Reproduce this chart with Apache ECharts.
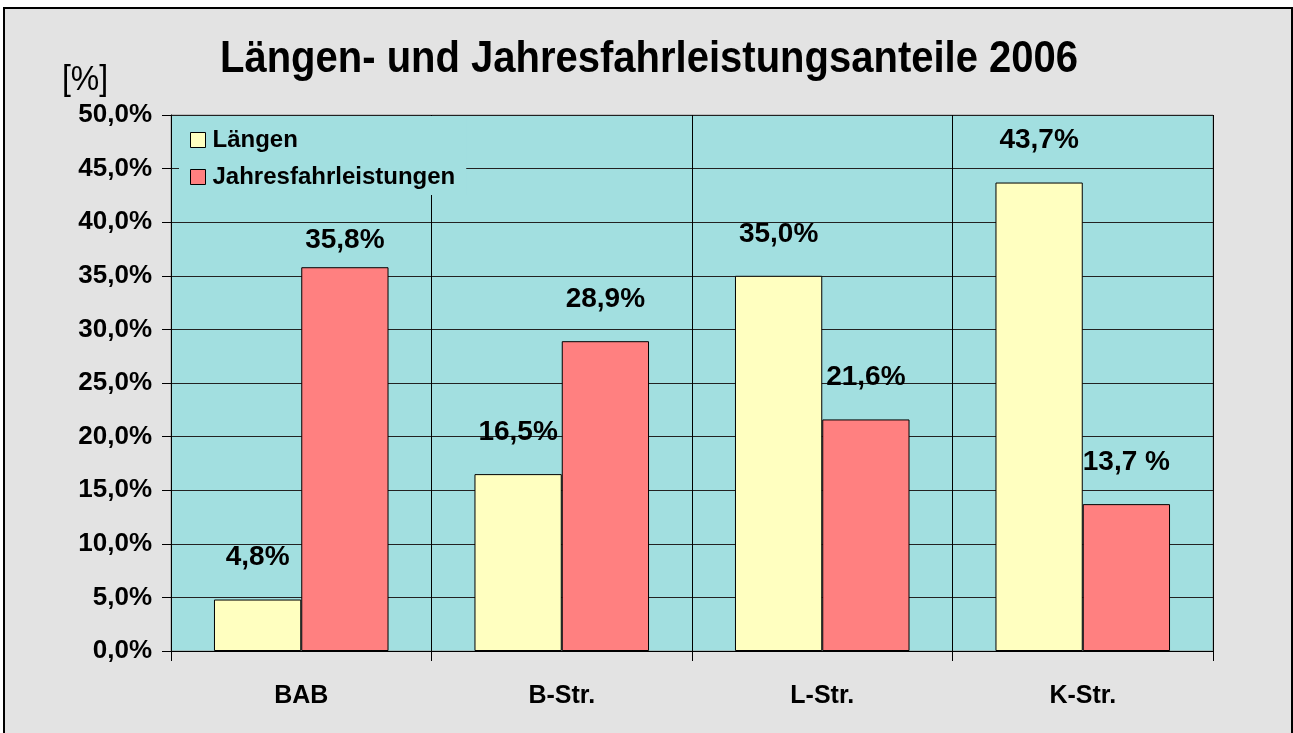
<!DOCTYPE html>
<html>
<head>
<meta charset="utf-8">
<script src="https://cdn.jsdelivr.net/npm/echarts@6/dist/echarts.min.js"></script>
<style>
  html, body { margin: 0; padding: 0; background: #fff; }
  #frame {
    position: absolute; left: 3px; top: 7px; width: 1286px; height: 800px;
    border: 2px solid #000; background: #e3e3e3;
  }
  #chart { position: absolute; left: 0; top: 0; width: 1293px; height: 733px; }
</style>
</head>
<body>
<div id="frame"></div>
<div id="chart"></div>
<script>
const categories = ['BAB', 'B-Str.', 'L-Str.', 'K-Str.']
const laengen = [4.8, 16.5, 35.0, 43.7]
const jahres = [35.8, 28.9, 21.6, 13.7]
const laengenLabels = ['4,8%', '16,5%', '35,0%', '43,7%']
const jahresLabels = ['35,8%', '28,9%', '21,6%', '13,7 %']

const font = 'Liberation Sans, Arial, sans-serif'
const chart = echarts.init(document.getElementById('chart'))

const labelStyle = {
  show: true,
  position: 'top',
  distance: 28,
  fontFamily: font,
  fontWeight: 'bold',
  fontSize: 28,
  color: '#000'
}

const option = {
  backgroundColor: 'transparent',
  animation: false,
  graphic: [
    {
      type: 'text',
      x: 85,
      y: 80,
      scaleY: 1.1,
      style: { text: '[%]', font: '32px ' + font, fill: '#000', align: 'center', verticalAlign: 'middle' }
    },
    {
      type: 'text',
      x: 649,
      y: 60,
      scaleY: 1.12,
      style: {
        text: 'Längen- und Jahresfahrleistungsanteile 2006',
        font: 'bold 40px ' + font,
        fill: '#000',
        align: 'center',
        verticalAlign: 'middle'
      }
    }
  ],
  legend: {
    orient: 'vertical',
    left: 179,
    top: 116,
    padding: [12, 11, 6, 11],
    backgroundColor: '#a2dfe0',
    itemWidth: 15,
    itemHeight: 15,
    itemGap: 13,
    textStyle: { fontFamily: font, fontWeight: 'bold', fontSize: 24, color: '#000', padding: [0, 0, 0, 2] },
    data: [
      { name: 'Längen', icon: 'rect', itemStyle: { borderColor: '#000', borderWidth: 1 } },
      { name: 'Jahresfahrleistungen', icon: 'rect', itemStyle: { borderColor: '#000', borderWidth: 1 } }
    ]
  },
  grid: {
    left: 171,
    right: 80,
    top: 115,
    bottom: 82,
    show: true,
    backgroundColor: '#a2dfe0',
    borderColor: '#999',
    borderWidth: 1
  },
  xAxis: {
    type: 'category',
    data: categories,
    axisLine: { lineStyle: { color: '#000', width: 1 } },
    axisTick: { show: true, length: 10, lineStyle: { color: '#000' } },
    splitLine: { show: true, lineStyle: { color: '#000', width: 1 } },
    axisLabel: { fontFamily: font, fontWeight: 'bold', fontSize: 25, color: '#000', margin: 33 }
  },
  yAxis: {
    type: 'value',
    min: 0,
    max: 50,
    interval: 5,
    axisLine: { show: true, lineStyle: { color: '#000', width: 1 } },
    axisTick: { show: true, length: 9, lineStyle: { color: '#000' } },
    splitLine: { show: true, lineStyle: { color: '#222', width: 1 } },
    axisLabel: {
      fontFamily: font,
      fontWeight: 'bold',
      fontSize: 26,
      color: '#000',
      margin: 19,
      formatter: v => v.toFixed(1).replace('.', ',') + '%'
    }
  },
  series: [
    {
      name: 'Längen',
      type: 'bar',
      barGap: 0,
      barCategoryGap: '33%',
      itemStyle: { color: '#ffffc0', borderColor: '#000', borderWidth: 1 },
      label: Object.assign({}, labelStyle, { formatter: p => laengenLabels[p.dataIndex] }),
      data: laengen
    },
    {
      name: 'Jahresfahrleistungen',
      type: 'bar',
      itemStyle: { color: '#ff8080', borderColor: '#000', borderWidth: 1 },
      label: Object.assign({}, labelStyle, { formatter: p => jahresLabels[p.dataIndex] }),
      // first label sits closer to its bar (room for the legend)
      data: jahres.map((v, i) => i === 0 ? { value: v, label: { distance: 13 } } : v)
    }
  ]
}

chart.setOption(option)
</script>
</body>
</html>
